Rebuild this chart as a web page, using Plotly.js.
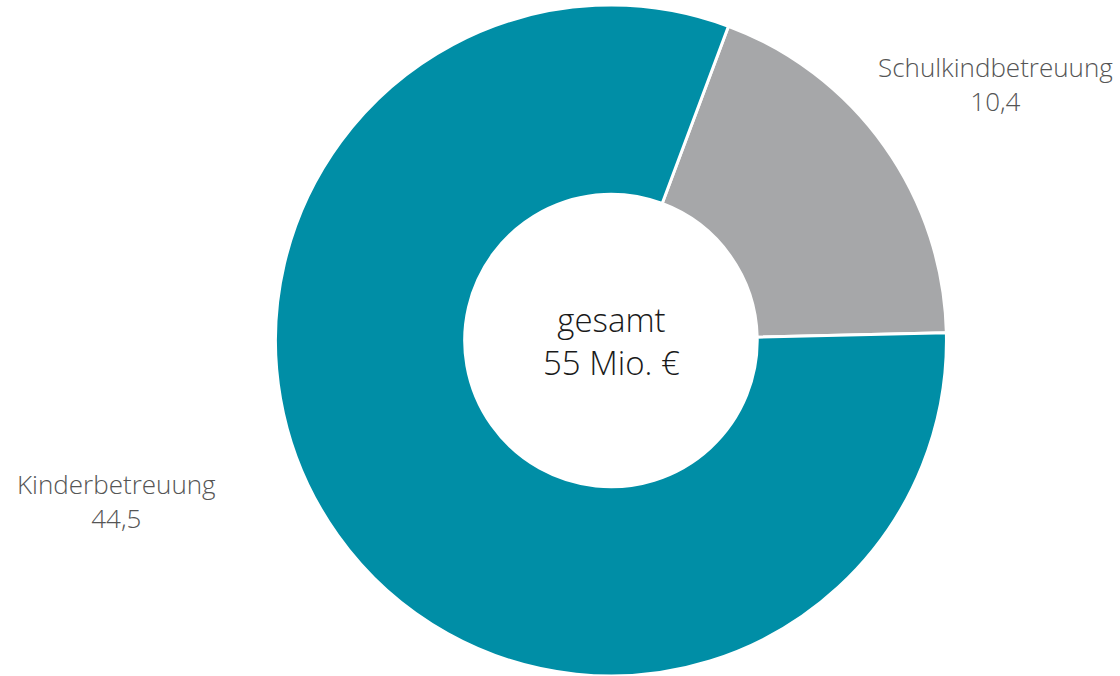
<!DOCTYPE html>
<html><head><meta charset="utf-8">
<script src="https://cdn.plot.ly/plotly-3.0.1.min.js"></script>
<style>html,body{margin:0;padding:0;background:#fff;}#chart{width:1120px;height:676px;}</style>
</head><body><div id="chart"></div>
<script>
const categories = ["Schulkindbetreuung", "Kinderbetreuung"];
const values = [10.4, 44.5];
const valueLabels = ["10,4", "44,5"];
const centerLines = ["gesamt", "55 Mio. €"];

const trace = {
  type: "pie",
  labels: categories,
  values: values,
  hole: 0.436,
  sort: false,
  direction: "clockwise",
  rotation: 20.5,
  textinfo: "none",
  hoverinfo: "label+value",
  marker: { colors: ["#A6A7A9", "#008EA6"], line: { color: "#ffffff", width: 3 } },
  domain: { x: [0.2455, 0.8455], y: [0, 1] },
  showlegend: false
};

const fam = "Open Sans, Noto Sans, sans-serif";
const labelFont = { family: fam, size: 26, color: "#555555", weight: 300 };
const centerFont = { family: fam, size: 33, color: "#1a1a1a", weight: 300 };
const H = 676, W = 1120;
const annotations = [
  { x: 995, y: 80, text: categories[0] + "<br>" + valueLabels[0], font: labelFont },
  { x: 116, y: 500, text: categories[1] + "<br>" + valueLabels[1], font: labelFont },
  { x: 611, y: 339, text: centerLines.join("<br>"), font: centerFont }
].map(a => Object.assign(a, {
  x: a.x / W, y: 1 - a.y / H, xref: "paper", yref: "paper", showarrow: false,
  align: "center", xanchor: "center", yanchor: "middle"
}));

const layout = {
  width: W, height: H,
  margin: { l: 0, r: 0, t: 5, b: 0 },
  paper_bgcolor: "#ffffff",
  annotations: annotations
};
Plotly.newPlot("chart", [trace], layout, { displayModeBar: false, staticPlot: true });
</script></body></html>
